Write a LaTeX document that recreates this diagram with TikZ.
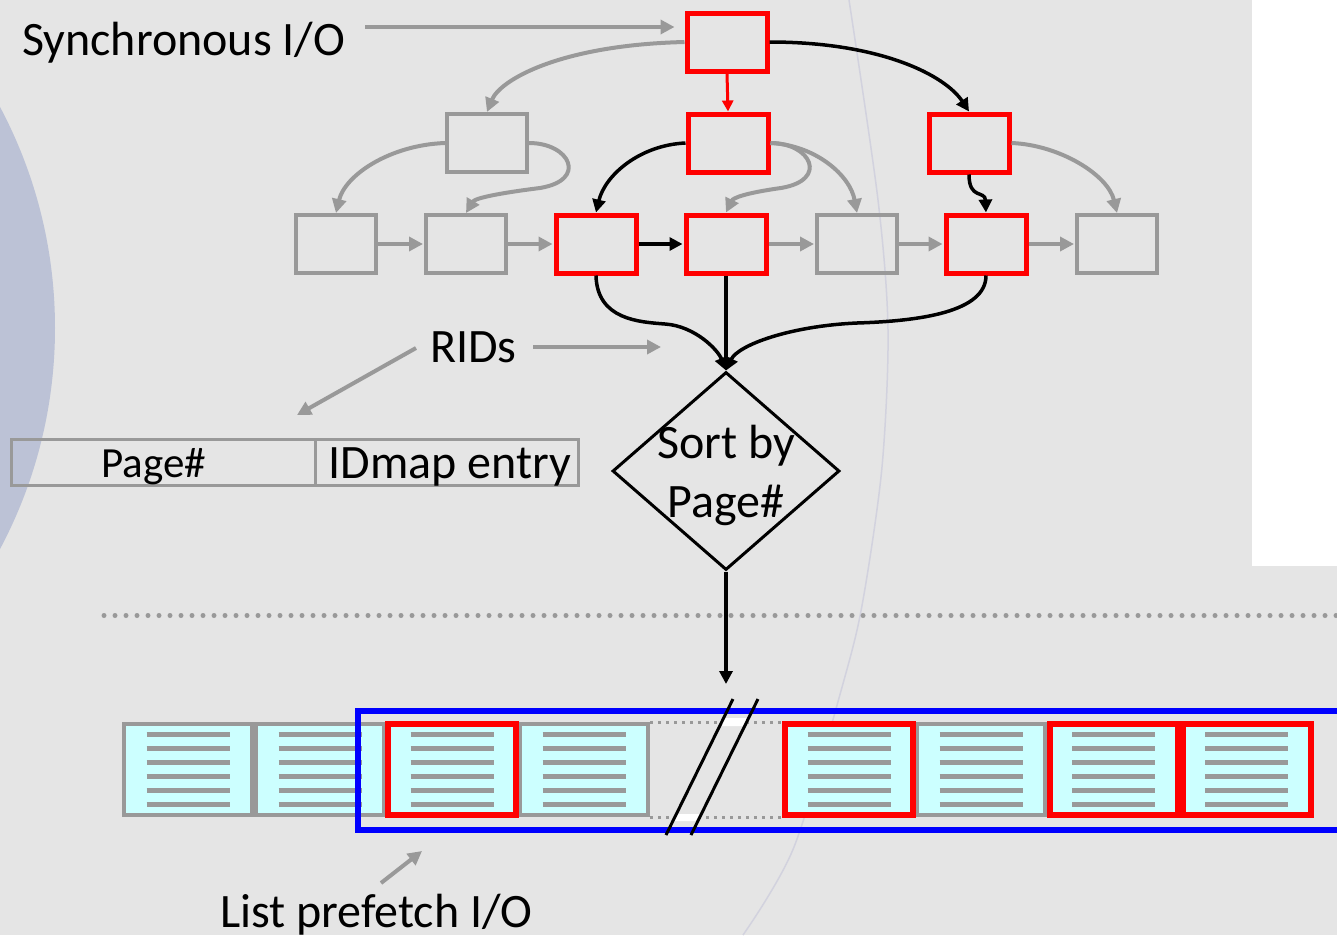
\documentclass[tikz,border=0pt]{standalone}
\usepackage{fontspec}
\setmainfont{Carlito}
\usetikzlibrary{arrows.meta,shapes.geometric}
\definecolor{bg}{HTML}{E5E5E5}
\definecolor{gr}{HTML}{999999}
\definecolor{circ}{HTML}{BCC2D6}
\definecolor{arcc}{HTML}{D2D2DE}
\definecolor{cy}{HTML}{CCFFFF}
\definecolor{rd}{HTML}{FF0000}
\definecolor{bl}{HTML}{0000FF}
\begin{document}
\begin{tikzpicture}[x=1pt,y=-1pt,
  txt/.style={font=\fontsize{48}{59}\selectfont, inner sep=0pt, text=black},
  gbox/.style={draw=gr, line width=4pt, minimum width=80pt, minimum height=58pt, inner sep=0pt},
  rbox/.style={draw=rd, line width=5pt, minimum width=80pt, minimum height=58pt, inner sep=0pt},
  pbox/.style={draw=gr, fill=cy, line width=4pt, minimum width=128pt, minimum height=91pt, inner sep=0pt},
  prbox/.style={draw=rd, line width=6pt, minimum width=128pt, minimum height=91pt, inner sep=0pt},
  cell/.style={draw=gr, line width=3pt, minimum height=46pt, inner sep=0pt},
  ga/.style={draw=gr, line width=4pt, -{Triangle[length=14pt,width=14pt]}},
  ba/.style={draw=black, line width=3.5pt, -{Triangle[length=13pt,width=13pt]}},
  ra/.style={draw=rd, line width=3pt, -{Triangle[length=11pt,width=11pt]}},
  pline/.style={draw=gr, line width=5pt},
]
% background
\fill[bg] (0,0) rectangle (1337,935);
\useasboundingbox (0,0) rectangle (1337,935);
\clip (0,0) rectangle (1337,935);
\fill[circ] (-416,328) circle[radius=471pt];
\fill[white] (1252,0) rectangle (1337,566);
\draw[arcc, line width=1.5pt] plot[smooth] coordinates {(849,0) (878,200) (888,330) (882,467) (863,600) (844,680) (794,847) (743,935)};

% top tree
\node[rbox] (A) at (727,42) {};
\node[gbox] (M1) at (487,143) {};
\node[rbox] (B) at (728,143) {};
\node[rbox] (C) at (969,143) {};
\node[gbox] (b1) at (336,244) {};
\node[gbox] (b2) at (466,244) {};
\node[rbox] (b3) at (596,244) {};
\node[rbox] (b4) at (726,244) {};
\node[gbox] (b5) at (857,244) {};
\node[rbox] (b6) at (986,244) {};
\node[gbox] (b7) at (1117,244) {};

\node[txt, anchor=base west] (sync) at (22,55) {Synchronous I/O};
\coordinate (s1) at (365,27);
\draw[ga, shorten >=10pt] (s1) -- (s1 -| A.west);

\draw[ga] (A.west) .. controls (560,45) and (500,80) .. (M1.north);
\draw[ba] (A.east) .. controls (880,42) and (945,75) .. (C.north);
\draw[ra] (A.south) -- (B.north);

\draw[ga] (M1.west) .. controls (390,145) and (345,175) .. (b1.north);
\draw[ga] (M1.east) .. controls (570,143) and (588,180) .. (540,188) .. controls (500,193) and (475,198) .. (b2.north);
\draw[ba] (B.west) .. controls (640,145) and (605,175) .. (b3.north);
\draw[ga] (B.east) .. controls (811,143) and (829,180) .. (781,188) .. controls (745,193) and (733,198) .. (b4.north);
\draw[ga] (B.east) .. controls (815,145) and (850,175) .. (b5.north);
\draw[ba] (C.south) .. controls (969,200) and (985,190) .. (b6.north);
\draw[ga] (C.east) .. controls (1060,145) and (1108,175) .. (b7.north);

\draw[ga, shorten >=1pt] (b1.east) -- (b2.west);
\draw[ga, shorten >=1pt] (b2.east) -- (b3.west);
\draw[ba, shorten >=1pt] (b3.east) -- (b4.west);
\draw[ga, shorten >=1pt] (b4.east) -- (b5.west);
\draw[ga, shorten >=1pt] (b5.east) -- (b6.west);
\draw[ga, shorten >=1pt] (b6.east) -- (b7.west);

% diamond
\node[diamond, draw=black, line width=3pt, minimum width=227pt, minimum height=198pt, inner sep=0pt] (D) at (726,471) {};
\node[txt, align=center] (Dt) at (726,475) {Sort by\\Page\#};

\draw[ba] (b3.south) .. controls (597,320) and (640,322) .. (665,324) .. controls (695,326) and (718,350) .. (D.north);
\draw[ba] (b4.south) -- (D.north);
\draw[ba] (b6.south) .. controls (986,312) and (920,321) .. (857,323) .. controls (790,326) and (738,345) .. (D.north);

% RIDs
\node[txt, anchor=base west] (rids) at (430,362) {RIDs};
\coordinate (r1) at (533,347);
\coordinate (r2) at (661,347);
\draw[ga] (r1) -- (r2);
\coordinate (r3) at (416,348);
\coordinate (r4) at (297,415);
\draw[ga] (r3) -- (r4);

% table
\node[cell, minimum width=304pt] (pg) at (163,462) {};
\node[cell, minimum width=263pt] (idm) at (446.5,462) {};
\node[txt, font=\fontsize{43}{52}\selectfont, anchor=base] (pgt) at (153.5,477) {Page\#};
\node[txt, anchor=base] (idt) at (450,478) {IDmap entry};

% separator
\draw[gr, line width=5pt, line cap=round, dash pattern=on 0pt off 11pt] (104,615.5) -- (1340,615.5);

% arrow to pages
\coordinate (brk) at (726,684);
\draw[ba] (D.south) -- (brk);

% pages
\foreach \n/\x in {p1/188,p2/320,p3/452,p4/584,p5/849,p6/981,p7/1113.5,p8/1246.5}{
  \node[pbox] (\n) at (\x,769.5) {};
  \foreach \dy in {-35,-21,-7,7,21,35}{
    \draw[pline] (\x-41.5,769.5+\dy) -- (\x+41.5,769.5+\dy);
  }
}
\foreach \n/\x in {p3/452,p5/849,p7/1113.5,p8/1246.5}{
  \node[prbox] at (\x,769.5) {};
}
\draw[gr, line width=3pt, dash pattern=on 3pt off 5pt] (p4.north east) -- (p5.north west);
\draw[gr, line width=3pt, dash pattern=on 3pt off 5pt] (p4.south east) -- (p5.south west);

% blue frame
\draw[bl, line width=6pt] (358,711) rectangle (1350,830);

% break mark
\fill[white] (719.7,726) -- (723.6,718) -- (748.6,718) -- (744.7,726) -- cycle;
\fill[white] (672.9,821) -- (676.3,814) -- (701.3,814) -- (697.9,821) -- cycle;
\draw[black, line width=3pt] (666,835) -- (733,699);
\draw[black, line width=3pt] (691,835) -- (758,699);

% list prefetch
\node[txt, anchor=base west] (lp) at (220,927) {List prefetch I/O};
\coordinate (l1) at (381,883);
\coordinate (l2) at (422,851);
\draw[ga] (l1) -- (l2);
\end{tikzpicture}
\end{document}
